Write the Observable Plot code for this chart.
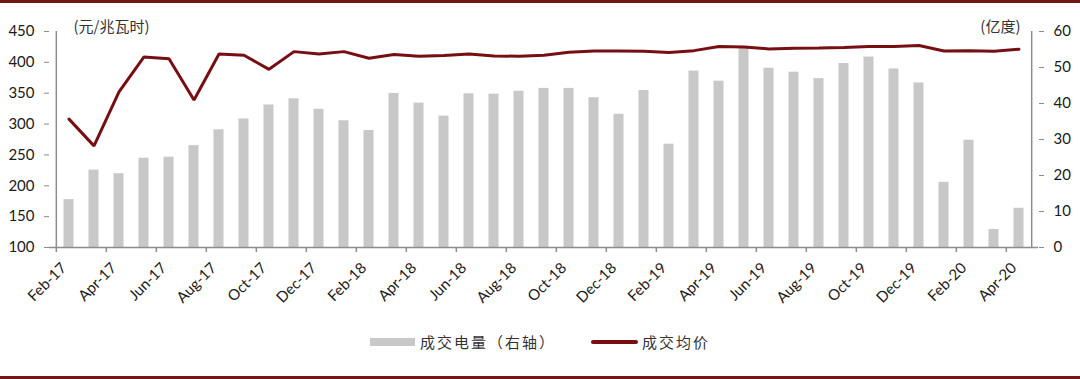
<!DOCTYPE html>
<html><head><meta charset="utf-8">
<script src="https://cdn.jsdelivr.net/npm/d3@7"></script>
<script src="https://cdn.jsdelivr.net/npm/@observablehq/plot@0.6"></script>
<style>
body{margin:0;background:#fff;}
#wrap{position:relative;width:1080px;height:379px;box-sizing:border-box;border-top:3px solid #731717;border-bottom:3px solid #731717;overflow:hidden;}
#chart{position:absolute;left:0;top:0;}
.lg{position:absolute;font-family:"Noto Sans CJK SC",sans-serif;font-size:15px;color:#333;letter-spacing:2px;line-height:18px;}
</style></head><body>
<div id="wrap"><div id="chart"></div>
<div class="lg" style="left:370px;top:335px;width:45px;height:8px;background:#c8c8c8;"></div>
<div class="lg" style="left:420px;top:330px;">成交电量（右轴）</div>
<div class="lg" style="left:591px;top:337px;width:47px;height:4px;background:#770f12;border-radius:2px;"></div>
<div class="lg" style="left:642px;top:330px;">成交均价</div>
</div>
<script>
const months = ["Feb-17","Mar-17","Apr-17","May-17","Jun-17","Jul-17","Aug-17","Sep-17","Oct-17","Nov-17","Dec-17",
"Jan-18","Feb-18","Mar-18","Apr-18","May-18","Jun-18","Jul-18","Aug-18","Sep-18","Oct-18","Nov-18","Dec-18",
"Jan-19","Feb-19","Mar-19","Apr-19","May-19","Jun-19","Jul-19","Aug-19","Sep-19","Oct-19","Nov-19","Dec-19",
"Jan-20","Feb-20","Mar-20","Apr-20"];
// 成交电量（亿度, right axis)
const volume = [13.3,21.5,20.5,24.8,25.1,28.3,32.7,35.7,39.6,41.3,38.4,35.2,32.5,42.8,40.1,36.5,42.7,42.6,43.4,44.2,
44.2,41.6,37.0,43.6,28.7,49.0,46.2,55.3,49.8,48.7,46.9,51.1,52.9,49.6,45.7,18.1,29.8,5.0,10.9];
// 成交均价（元/兆瓦时, left axis)
const price = [308,264.7,352,408.8,406,339,413.6,411.5,388.7,417.4,413.6,417.4,406.6,412.6,409.9,411,413.6,410.4,409.9,411.5,
416.4,418.5,418.5,418,415.8,419,425.6,425,421.8,422.9,423.4,424,425.6,425.6,427.2,418.5,419,418,421.2];
const leftTicks = [100,150,200,250,300,350,400,450];
const rightTicks = [0,10,20,30,40,50,60];
const xTickLabels = months.filter((d,i)=>i%2===0);

const W = 1080, H = 300, mL = 49, mR = 42, mT = 28, mB = 56;
const step = (W - mL - mR) / months.length;
const L0 = 100, L1 = 450, R0 = 0, R1 = 60;
const toLeft = v => L0 + (v - R0) * (L1 - L0) / (R1 - R0);
const toRight = v => Math.round(R0 + (v - L0) * (R1 - R0) / (L1 - L0));

const data = months.map((m,i)=>({month:m, volume:volume[i], price:price[i]}));
const axisColor = "#8c8c8c";
const font = "Lato, 'Noto Sans', sans-serif";

const chart = Plot.plot({
  width: W, height: H,
  marginLeft: mL, marginRight: mR, marginTop: mT, marginBottom: mB,
  style: {fontFamily: font, fontSize: "15px", color: "#1a1a1a", background: "transparent", overflow: "visible"},
  x: {type: "band", domain: months, padding: 0, axis: null},
  y: {domain: [L0, L1], axis: null},
  marks: [
    Plot.barY(data, {x: "month", y1: () => L0, y2: d => toLeft(d.volume), fill: "#c8c8c8", insetLeft: 7.5, insetRight: 7.5}),
    Plot.lineY(data, {x: "month", y: "price", stroke: "#770f12", strokeWidth: 3, strokeLinejoin: "miter"}),
    // axis lines
    Plot.ruleY([L0], {stroke: axisColor, strokeWidth: 1.5}),
    Plot.ruleX([months[0]], {dx: -step/2, y1: L0, y2: L1, stroke: axisColor, strokeWidth: 1.5}),
    Plot.ruleX([months[months.length-1]], {dx: step/2, y1: L0, y2: L1, stroke: axisColor, strokeWidth: 1.5}),
    // x ticks at band left edges
    Plot.ruleX(xTickLabels, {x: d => d, dx: -step/2, insetTop: H - mT - mB, insetBottom: -5, stroke: axisColor, strokeWidth: 1.5}),
    Plot.axisX({ticks: xTickLabels, tickSize: 0, tickRotate: -45, tickPadding: 18, fontSize: 15, label: null, dx: -5}),
    Plot.axisY({anchor: "left", ticks: leftTicks, tickSize: 5, tickPadding: 10, stroke: axisColor, label: null, fontSize: 15}),
    Plot.axisY({anchor: "right", ticks: rightTicks.map(toLeft), tickFormat: toRight, tickSize: 5, tickPadding: 10, stroke: axisColor, label: null, fontSize: 15}),
    Plot.text(["(元/兆瓦时)"], {frameAnchor: "top-left", dx: 24, dy: -4, textAnchor: "start", lineAnchor: "middle", fontSize: 15, fontFamily: "'Noto Sans CJK SC'", fill: "#333"}),
    Plot.text(["(亿度)"], {frameAnchor: "top-right", dx: -18, dy: -4, textAnchor: "end", lineAnchor: "middle", fontSize: 15, fontFamily: "'Noto Sans CJK SC'", fill: "#333"})
  ]
});
document.getElementById("chart").appendChild(chart);
</script>
</body></html>
